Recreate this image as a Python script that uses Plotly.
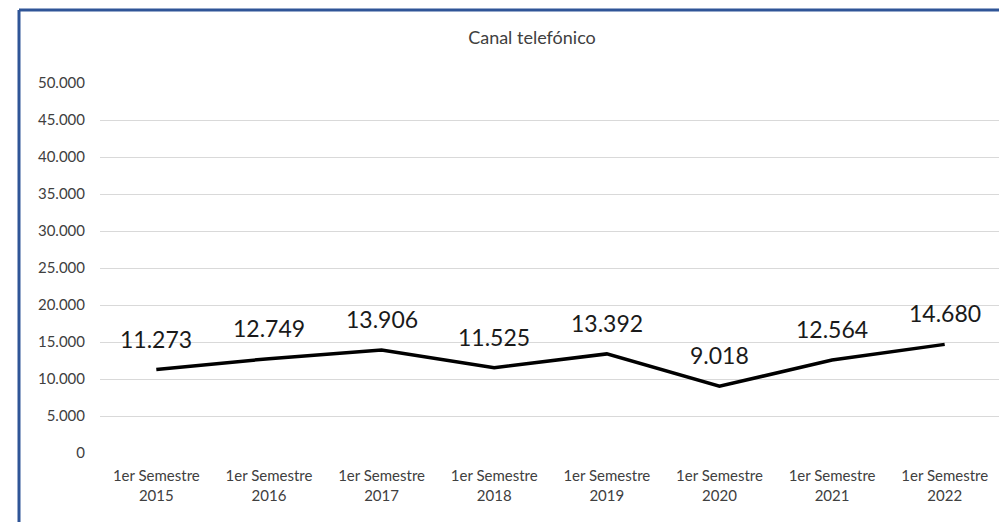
import plotly.graph_objects as go

categories = ["1er Semestre<br>2015", "1er Semestre<br>2016", "1er Semestre<br>2017",
              "1er Semestre<br>2018", "1er Semestre<br>2019", "1er Semestre<br>2020",
              "1er Semestre<br>2021", "1er Semestre<br>2022"]
values = [11273, 12749, 13906, 11525, 13392, 9018, 12564, 14680]
labels = ["11.273", "12.749", "13.906", "11.525", "13.392", "9.018", "12.564", "14.680"]
y_ticks = [0, 5000, 10000, 15000, 20000, 25000, 30000, 35000, 40000, 45000, 50000]
y_tick_text = ["0", "5.000", "10.000", "15.000", "20.000", "25.000", "30.000",
               "35.000", "40.000", "45.000", "50.000"]

FONT = "Lato, 'Open Sans', sans-serif"

# page body adds an 8px margin, so the figure is a bit smaller than the window
W, H = 999, 514
L, R, T, B = 92, 6, 75, 69
pw, ph = W - L - R, H - T - B

fig = go.Figure()
fig.add_trace(go.Scatter(
    x=categories, y=values, mode="lines",
    line=dict(color="black", width=3.5),
    hoverinfo="skip", showlegend=False))

# value labels above each point
for c, v, t in zip(categories, values, labels):
    fig.add_annotation(x=c, y=v, text=t, showarrow=False, yshift=31,
                       font=dict(family=FONT, size=23, color="#1a1a1a"))

fig.update_layout(
    width=W, height=H,
    margin=dict(l=L, r=R, t=T, b=B),
    paper_bgcolor="white", plot_bgcolor="white",
    title=dict(text="Canal telefónico", x=0.5245, xanchor="center",
               y=1 - 30 / H, yanchor="middle",
               font=dict(family=FONT, size=18, color="#404040")),
    xaxis=dict(range=[-0.5, 7.5], showgrid=False, zeroline=False, showline=False,
               ticklabelstandoff=12,
               tickfont=dict(family=FONT, size=15, color="#404040"),
               fixedrange=True),
    yaxis=dict(range=[0, 50000], tickvals=y_ticks, ticktext=y_tick_text,
               showgrid=True, gridcolor="#d9d9d9", gridwidth=1,
               zeroline=False, showline=False, ticklabelstandoff=14,
               tickfont=dict(family=FONT, size=15, color="#404040"),
               fixedrange=True),
    shapes=[
        dict(type="line", xref="paper", yref="paper",
             x0=(11 - L) / pw, x1=(W - L) / pw,
             y0=1 + (T - 2) / ph, y1=1 + (T - 2) / ph,
             line=dict(color="#2f5597", width=3)),
        dict(type="line", xref="paper", yref="paper",
             x0=(11 - L) / pw, x1=(11 - L) / pw,
             y0=1 + (T - 2) / ph, y1=-B / ph,
             line=dict(color="#2f5597", width=3)),
    ],
)

fig.write_html("out.html")
